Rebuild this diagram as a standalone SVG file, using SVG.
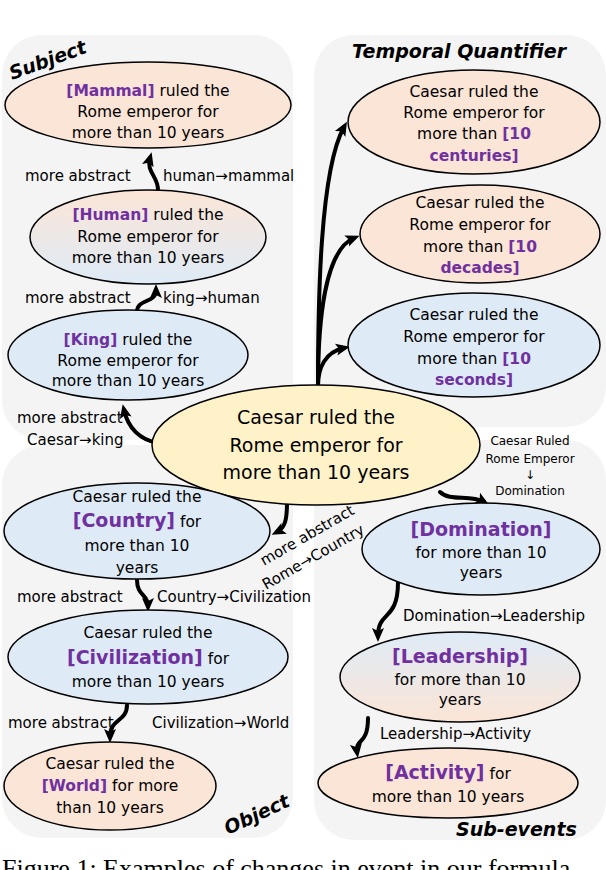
<svg xmlns="http://www.w3.org/2000/svg" width="606" height="870" viewBox="0 0 606 870">
<defs>
<style>
.panel{fill:#f4f4f4}
.node{stroke:#000;stroke-width:1.5}
.peach{fill:#fbe5d6}
.blue{fill:#deebf7}
.yellow{fill:#fff2c9}
.t{font-family:"DejaVu Sans",sans-serif;font-size:15.5px;fill:#000;text-anchor:middle}
.big{font-size:19px}
.p{fill:#7030a0;font-weight:bold}
.lab{font-family:"DejaVu Sans",sans-serif;font-size:15px;fill:#000}
.sm{font-family:"DejaVu Sans",sans-serif;font-size:12px;fill:#000;text-anchor:middle}
.hd{font-family:"DejaVu Sans",sans-serif;font-size:19px;font-weight:bold;font-style:italic;fill:#000}
.ar{fill:none;stroke:#000;stroke-width:4;stroke-linecap:round;marker-end:url(#ah)}
.cap{font-family:"Liberation Serif",serif;font-size:26px;fill:#000}
</style>
<marker id="ah" markerUnits="userSpaceOnUse" markerWidth="16" markerHeight="16" refX="8" refY="6" orient="auto" viewBox="0 0 16 12">
<path d="M0,0 L14,6 L0,12 L3,6 Z" fill="#000"/>
</marker>
<linearGradient id="g1" x1="0" y1="0" x2="0" y2="1">
<stop offset="0" stop-color="#fbe5d6"/><stop offset="1" stop-color="#deebf7"/>
</linearGradient>
<linearGradient id="g2" x1="0" y1="0" x2="0" y2="1">
<stop offset="0" stop-color="#deebf7"/><stop offset="1" stop-color="#fbe5d6"/>
</linearGradient>
</defs>
<rect width="606" height="870" fill="#fff"/>
<g id="panels">
<rect class="panel" x="2" y="35" width="291" height="405" rx="40"/>
<rect class="panel" x="314" y="35" width="292" height="392" rx="40"/>
<rect class="panel" x="2" y="445" width="291" height="393" rx="40"/>
<rect class="panel" x="314" y="440" width="292" height="400" rx="40"/>
<text class="hd" transform="translate(12,80) rotate(-20)">Subject</text>
<text class="hd" x="352" y="58">Temporal Quantifier</text>
<text class="hd" transform="translate(228,835) rotate(-25)">Object</text>
<text class="hd" x="456" y="836">Sub-events</text>
</g>
<g id="connectors">
<path class="ar" d="M158,190 C158,176 146,172 150,158"/>
<path class="ar" d="M137,312 C137,298 156,304 156,290"/>
<path class="ar" d="M158,443 C140,440 128,428 124,410"/>
<path class="ar" d="M318,386 C318,300 320,170 344,127"/>
<path class="ar" d="M318,386 C318,320 325,250 354,238"/>
<path class="ar" d="M318,386 C318,368 325,352 344,348"/>
<path class="ar" d="M440,492 C450,502 470,494 484,502"/>
<path class="ar" d="M398,582 C398,622 378,610 378,636"/>
<path class="ar" d="M368,718 C368,746 355,738 357,752"/>
<path class="ar" d="M287,502 C287,520 285,528 277,532"/>
<path class="ar" d="M137,580 C137,596 148,594 148,606"/>
<path class="ar" d="M127,705 C127,722 110,718 110,737"/>
<text class="lab" x="25" y="181">more abstract</text>
<text class="lab" x="163" y="181">human→mammal</text>
<text class="lab" x="25" y="303">more abstract</text>
<text class="lab" x="163" y="303">king→human</text>
<text class="lab" x="17" y="423">more abstract</text>
<text class="lab" x="27" y="445">Caesar→king</text>
<text class="sm" x="530" y="445">Caesar Ruled</text>
<text class="sm" x="530" y="463">Rome Emperor</text>
<text class="sm" x="530" y="479">↓</text>
<text class="sm" x="530" y="495">Domination</text>
<text class="lab" x="403" y="621">Domination→Leadership</text>
<text class="lab" x="380" y="739">Leadership→Activity</text>
<text class="lab" transform="translate(264,566) rotate(-30)">more abstract</text>
<text class="lab" transform="translate(266,590) rotate(-30)">Rome→Country</text>
<text class="lab" x="17" y="602">more abstract</text>
<text class="lab" x="157" y="602">Country→Civilization</text>
<text class="lab" x="8" y="728">more abstract</text>
<text class="lab" x="152" y="728">Civilization→World</text>
</g>
<g id="n-mammal">
<ellipse class="node peach" cx="148" cy="105" rx="143" ry="43"/>
<text class="t" x="148" y="96"><tspan class="p">[Mammal]</tspan> ruled the</text>
<text class="t" x="148" y="117">Rome emperor for</text>
<text class="t" x="148" y="138">more than 10 years</text>
</g>
<g id="n-human">
<ellipse class="node" fill="url(#g1)" cx="148" cy="237" rx="118" ry="47"/>
<text class="t" x="148" y="220"><tspan class="p">[Human]</tspan> ruled the</text>
<text class="t" x="148" y="242">Rome emperor for</text>
<text class="t" x="148" y="263">more than 10 years</text>
</g>
<g id="n-king">
<ellipse class="node blue" cx="128" cy="355" rx="120" ry="45"/>
<text class="t" x="128" y="345"><tspan class="p">[King]</tspan> ruled the</text>
<text class="t" x="128" y="366">Rome emperor for</text>
<text class="t" x="128" y="386">more than 10 years</text>
</g>
<g id="n-center">
<ellipse class="node yellow" cx="316" cy="445" rx="164" ry="60"/>
<text class="t big" x="316" y="424">Caesar ruled the</text>
<text class="t big" x="316" y="452">Rome emperor for</text>
<text class="t big" x="316" y="479">more than 10 years</text>
</g>
<g id="n-centuries">
<ellipse class="node peach" cx="474" cy="122" rx="126" ry="52"/>
<text class="t" x="474" y="97">Caesar ruled the</text>
<text class="t" x="474" y="118">Rome emperor for</text>
<text class="t" x="474" y="139">more than <tspan class="p">[10</tspan></text>
<text class="t p" x="474" y="161">centuries]</text>
</g>
<g id="n-decades">
<ellipse class="node peach" cx="480" cy="234" rx="120" ry="49"/>
<text class="t" x="480" y="208">Caesar ruled the</text>
<text class="t" x="480" y="230">Rome emperor for</text>
<text class="t" x="480" y="252">more than <tspan class="p">[10</tspan></text>
<text class="t p" x="480" y="273">decades]</text>
</g>
<g id="n-seconds">
<ellipse class="node blue" cx="474" cy="345" rx="126" ry="52"/>
<text class="t" x="474" y="320">Caesar ruled the</text>
<text class="t" x="474" y="342">Rome emperor for</text>
<text class="t" x="474" y="364">more than <tspan class="p">[10</tspan></text>
<text class="t p" x="474" y="385">seconds]</text>
</g>
<g id="n-domination">
<ellipse class="node blue" cx="481" cy="549" rx="119" ry="46"/>
<text class="t p big" x="481" y="536">[Domination]</text>
<text class="t" x="481" y="558">for more than 10</text>
<text class="t" x="481" y="578">years</text>
</g>
<g id="n-leadership">
<ellipse class="node" fill="url(#g2)" cx="460" cy="677" rx="120" ry="45"/>
<text class="t p big" x="460" y="663">[Leadership]</text>
<text class="t" x="460" y="685">for more than 10</text>
<text class="t" x="460" y="705">years</text>
</g>
<g id="n-activity">
<ellipse class="node peach" cx="448" cy="783" rx="130" ry="35"/>
<text class="t" x="448" y="779"><tspan class="p big">[Activity]</tspan> for</text>
<text class="t" x="448" y="802">more than 10 years</text>
</g>
<g id="n-country">
<ellipse class="node blue" cx="137" cy="531" rx="133" ry="48"/>
<text class="t" x="137" y="502">Caesar ruled the</text>
<text class="t" x="137" y="527"><tspan class="p big">[Country]</tspan> for</text>
<text class="t" x="137" y="551">more than 10</text>
<text class="t" x="137" y="573">years</text>
</g>
<g id="n-civilization">
<ellipse class="node blue" cx="148" cy="657" rx="140" ry="47"/>
<text class="t" x="148" y="638">Caesar ruled the</text>
<text class="t" x="148" y="664"><tspan class="p big">[Civilization]</tspan> for</text>
<text class="t" x="148" y="687">more than 10 years</text>
</g>
<g id="n-world">
<ellipse class="node peach" cx="110" cy="786" rx="106" ry="44"/>
<text class="t" x="110" y="769">Caesar ruled the</text>
<text class="t" x="110" y="791"><tspan class="p">[World]</tspan> for more</text>
<text class="t" x="110" y="813">than 10 years</text>
</g>
<text class="cap" x="2" y="877">Figure 1: Examples of changes in event in our formula</text>
</svg>
